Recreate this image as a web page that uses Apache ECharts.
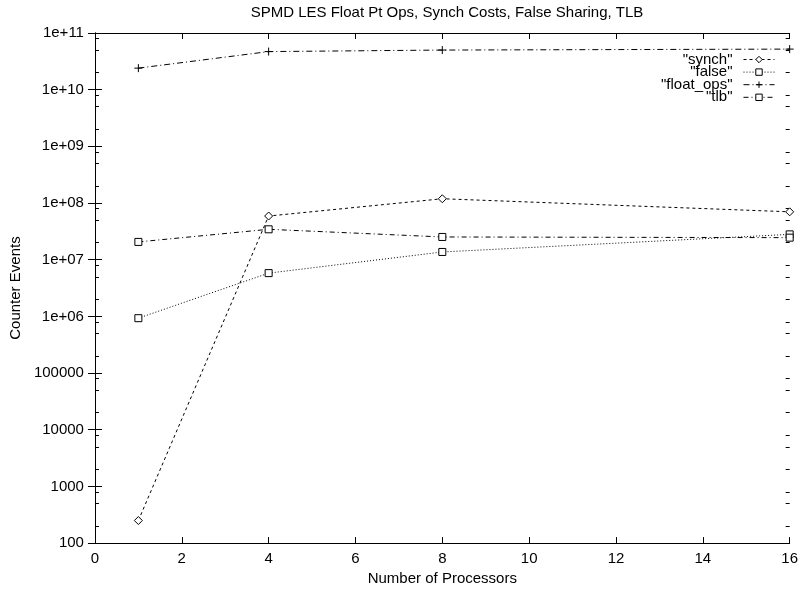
<!DOCTYPE html>
<html>
<head>
<meta charset="utf-8">
<script src="https://cdn.jsdelivr.net/npm/echarts@6/dist/echarts.min.js"></script>
<style>
html,body{margin:0;padding:0;background:#fff;}
#chart{width:801px;height:591px;}
</style>
</head>
<body>
<div id="chart"></div>
<script>
const processors = [1, 4, 8, 16];
const synchValues = [250, 5.9e7, 1.19e8, 7.0e7];
const falseValues = [9.3e5, 5.8e6, 1.37e7, 2.8e7];
const floatOpsValues = [2.4e10, 4.7e10, 5.0e10, 5.2e10];
const tlbValues = [2.06e7, 3.44e7, 2.52e7, 2.45e7];
const seriesNames = ['"synch"', '"false"', '"float_ops"', '"tlb"'];
const yTickValues = [1e2, 1e3, 1e4, 1e5, 1e6, 1e7, 1e8, 1e9, 1e10, 1e11];
const yTickLabels = ['100', '1000', '10000', '100000', '1e+06', '1e+07', '1e+08', '1e+09', '1e+10', '1e+11'];
const yMinorMantissas = [2, 5, 8];

const FONT = 'Liberation Sans, Arial, Helvetica, sans-serif';
const pairs = vals => processors.map((x, i) => [x, vals[i]]);
// minor tick positions expressed as log10 exponents on a helper axis
const yMinorExp = [];
for (let e = 2; e < 11; e++) { yMinorMantissas.forEach(k => yMinorExp.push(e + Math.log10(k))); }

const chart = echarts.init(document.getElementById('chart'), null, {renderer: 'canvas'});

const baseX = {
  type: 'value', min: 0, max: 16, interval: 2,
  axisLine: {show: true, lineStyle: {color: '#000', width: 1}},
  axisTick: {show: true, inside: true, length: 6, lineStyle: {color: '#000'}},
  splitLine: {show: false}
};
const baseY = {
  type: 'log', logBase: 10, min: 100, max: 1e11,
  axisLine: {show: true, lineStyle: {color: '#000', width: 1}},
  axisTick: {show: true, inside: true, length: 7, lineStyle: {color: '#000'}, customValues: yTickValues},
  splitLine: {show: false}
};
const minorY = {
  type: 'value', min: 2, max: 11,
  axisLine: {show: false}, axisLabel: {show: false}, splitLine: {show: false},
  axisTick: {show: true, inside: true, length: 4, lineStyle: {color: '#000'}, customValues: yMinorExp}
};

function makeSeries(name, vals, symbol, dash, size) {
  return {
    name: name, type: 'line', data: pairs(vals),
    xAxisIndex: 0, yAxisIndex: 0,
    symbol: symbol, symbolSize: size, showAllSymbol: true,
    lineStyle: {color: '#000', width: 1, type: dash},
    itemStyle: {color: '#fff', borderColor: '#000', borderWidth: 1},
    emphasis: {disabled: true},
    animation: false, clip: false
  };
}

const option = {
  animation: false,
  backgroundColor: '#fff',
  textStyle: {fontFamily: FONT},
  title: {
    text: 'SPMD LES Float Pt Ops, Synch Costs, False Sharing, TLB',
    left: 442, top: 0, textAlign: 'center',
    textStyle: {fontFamily: FONT, fontSize: 15, fontWeight: 'normal', color: '#000'}
  },
  grid: {left: 94, right: 11, top: 33, bottom: 46, containLabel: false},
  legend: {
    orient: 'vertical', right: 26, top: 52, align: 'right', padding: 0,
    itemWidth: 31, itemHeight: 8, itemGap: -2.4,
    data: seriesNames,
    itemStyle: {borderWidth: 1},
    lineStyle: {width: 1},
    formatter: name => '{a|' + name + '}',
    textStyle: {
      fontFamily: FONT, fontSize: 15, color: '#000',
      rich: {a: {fontFamily: FONT, fontSize: 15, color: '#000', padding: [0, 6, 0, 0]}}
    },
    selectedMode: false
  },
  xAxis: [
    Object.assign({}, baseX, {
      position: 'bottom',
      name: 'Number of Processors', nameLocation: 'middle', nameGap: 24,
      nameTextStyle: {fontFamily: FONT, fontSize: 15, color: '#000'},
      axisLabel: {show: true, color: '#000', fontFamily: FONT, fontSize: 15, margin: 8}
    }),
    Object.assign({}, baseX, {position: 'top', axisLabel: {show: false}})
  ],
  yAxis: [
    Object.assign({}, baseY, {
      position: 'left',
      name: 'Counter Events', nameLocation: 'middle', nameGap: 70, nameRotate: 90,
      nameTextStyle: {fontFamily: FONT, fontSize: 15, color: '#000'},
      axisLabel: {
        show: true, color: '#000', fontFamily: FONT, fontSize: 15, margin: 11,
        customValues: yTickValues,
        formatter: v => {
          const i = yTickValues.findIndex(t => Math.abs(Math.log10(t) - Math.log10(v)) < 1e-6);
          return i >= 0 ? yTickLabels[i] : '';
        }
      }
    }),
    Object.assign({}, baseY, {position: 'right', axisLabel: {show: false}}),
    Object.assign({}, minorY, {position: 'left'}),
    Object.assign({}, minorY, {position: 'right'})
  ],
  series: [
    makeSeries(seriesNames[0], synchValues, 'diamond', [3, 3], 8),
    makeSeries(seriesNames[1], falseValues, 'rect', [1, 2], 7),
    Object.assign(makeSeries(seriesNames[2], floatOpsValues, 'path://M0,4H8M4,0V8', [6, 3, 1, 3], 8), {
      itemStyle: {color: 'none', borderColor: '#000', borderWidth: 1}
    }),
    makeSeries(seriesNames[3], tlbValues, 'rect', [5, 3, 1, 3], 7)
  ]
};
chart.setOption(option);
</script>
</body>
</html>
